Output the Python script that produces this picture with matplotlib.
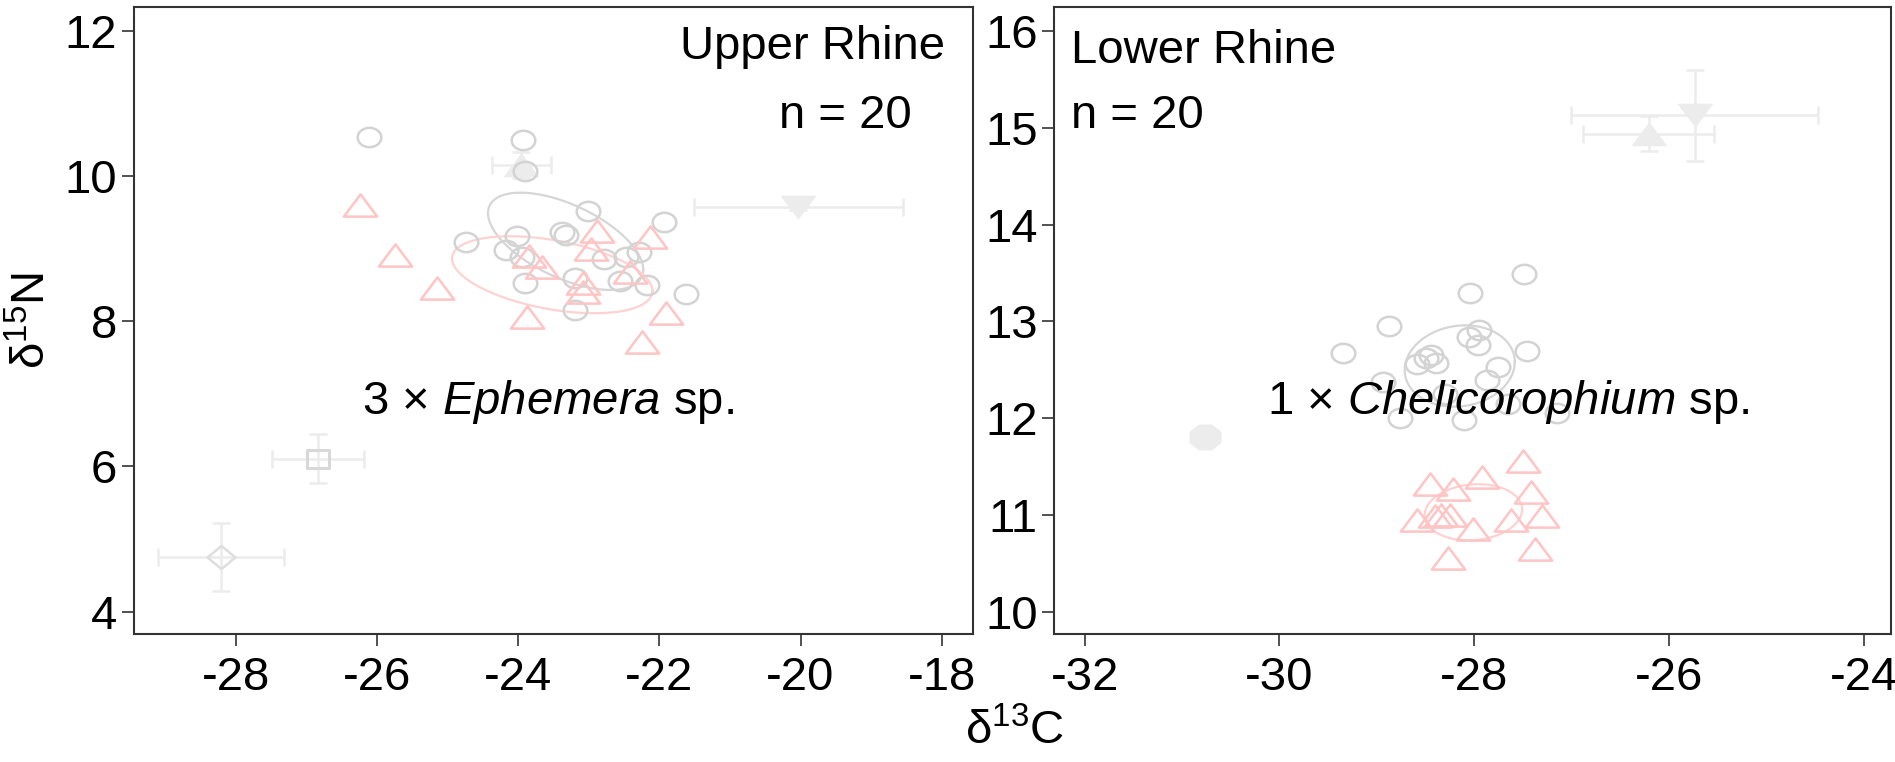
"""Isotope biplots (d13C vs d15N) for the Upper and Lower Rhine sites."""
import numpy as np
import matplotlib
matplotlib.use("Agg")
import matplotlib.pyplot as plt
from matplotlib.path import Path
from matplotlib.transforms import Affine2D

plt.rcParams['font.family'] = ['Liberation Sans', 'DejaVu Sans']
plt.rcParams['mathtext.fontset'] = 'custom'
plt.rcParams['mathtext.rm'] = 'Liberation Sans'
plt.rcParams['mathtext.it'] = 'Liberation Sans:italic'
plt.rcParams['mathtext.bf'] = 'Liberation Sans:bold'
plt.rcParams['axes.unicode_minus'] = False

# ---- Upper Rhine --------------------------------------------------------
up_circ_x = [-26.11, -23.94, -23.90, -23.01, -21.93, -24.74, -24.02, -24.18, -23.38, -23.33,
             -22.79, -22.48, -22.29, -23.90, -23.19, -22.56, -22.17, -21.62, -23.19, -23.95]
up_circ_y = [10.53, 10.50, 10.07, 9.52, 9.37, 9.09, 9.17, 8.98, 9.23, 9.19,
             8.86, 8.89, 8.95, 8.52, 8.59, 8.55, 8.50, 8.38, 8.15, 8.89]
up_tri_x = [-26.25, -25.75, -25.15, -23.88, -22.89, -22.13, -22.97, -23.85, -23.67, -23.08,
            -23.08, -22.42, -21.90, -22.24]
up_tri_y = [9.60, 8.91, 8.46, 8.06, 9.24, 9.16, 8.99, 8.90, 8.75, 8.53,
            8.40, 8.68, 8.12, 7.72]
up_src_x = [-23.96, -20.03, -26.84, -28.21]
up_src_y = [10.15, 9.57, 6.11, 4.75]
up_src_xerr = [0.42, 1.48, 0.65, 0.89]
up_src_yerr = [0.18, 0.04, 0.34, 0.47]
up_src_kind = ["up", "down", "square", "diamond"]
# ellipses: centre x, centre y, sd x, sd y, correlation
up_ell_circ = (-23.33, 9.10, 1.10, 0.67, -0.58)
up_ell_tri = (-23.52, 8.64, 1.42, 0.53, -0.42)

# ---- Lower Rhine --------------------------------------------------------
lo_circ_x = [-27.49, -28.04, -28.88, -29.35, -28.06, -27.95, -27.96, -27.46, -28.44, -28.39,
             -28.59, -27.76, -27.87, -28.94, -28.76, -28.11, -27.15, -28.50, -27.65, -28.30]
lo_circ_y = [13.49, 13.29, 12.95, 12.67, 12.84, 12.91, 12.76, 12.69, 12.65, 12.57,
             12.56, 12.53, 12.40, 12.38, 12.00, 11.98, 12.05, 12.62, 12.15, 12.25]
lo_tri_x = [-27.50, -27.92, -28.46, -28.22, -27.42, -28.59, -28.40, -28.34, -28.25, -28.01,
            -27.62, -27.31, -27.38, -28.27]
lo_tri_y = [11.56, 11.39, 11.32, 11.27, 11.24, 10.95, 10.99, 11.00, 11.00, 10.86,
            10.95, 10.99, 10.65, 10.56]
lo_src_x = [-26.21, -25.74, -30.76]
lo_src_y = [14.94, 15.13, 11.81]
lo_src_xerr = [0.67, 1.27, 0.0]
lo_src_yerr = [0.18, 0.47, 0.0]
lo_src_kind = ["up", "down", "hex"]
lo_ell_circ = (-28.15, 12.54, 0.565, 0.42, 0.1)
lo_ell_tri = (-28.01, 11.03, 0.50, 0.29, 0.1)

# ---- markers (R symbols look a bit wider than tall in the original) -----
def stretched(path, sx):
    return path.transformed(Affine2D().scale(sx, 1.0))

circ_m = stretched(Path.unit_circle(), 1.22)
tri_m = Path([(0, 0.5), (-0.75, -0.5), (0.75, -0.5), (0, 0.5)], closed=True)
tri_down_m = Path([(0, -0.5), (-0.75, 0.5), (0.75, 0.5), (0, -0.5)], closed=True)
sq_m = Path([(-0.65, -0.5), (0.65, -0.5), (0.65, 0.5), (-0.65, 0.5), (-0.65, -0.5)], closed=True)
dia_m = Path([(0, 0.5), (0.6, 0), (0, -0.5), (-0.6, 0), (0, 0.5)], closed=True)
ang = np.linspace(0, 2 * np.pi, 9)[:-1] + np.pi / 8
hex_m = Path(np.column_stack([0.62 * np.cos(ang), 0.5 * np.sin(ang)]).tolist() +
             [[0.62 * np.cos(ang[0]), 0.5 * np.sin(ang[0])]], closed=True)

GREY = "#d3d3d3"
PINK = "#ffc4c4"
SRC = "#ececec"
FS = 34

src_style = {
    "up": dict(marker=tri_m, ms=24, mfc=SRC, mec=SRC),
    "down": dict(marker=tri_down_m, ms=24, mfc=SRC, mec=SRC),
    "square": dict(marker=sq_m, ms=16, mfc="none", mec="#d8d8d8", mew=2.2),
    "diamond": dict(marker=dia_m, ms=20, mfc="none", mec="#dedede", mew=1.8),
    "hex": dict(marker=hex_m, ms=22, mfc=SRC, mec=SRC),
}


def ellipse(ax, params, color):
    cx, cy, sx, sy, rho = params
    t = np.linspace(0, 2 * np.pi, 300)
    x = cx + sx * np.cos(t)
    y = cy + sy * (rho * np.cos(t) + np.sqrt(1 - rho ** 2) * np.sin(t))
    ax.plot(x, y, color=color, lw=1.6, zorder=3)


def panel(ax, cx, cy, tx, ty, sx, sy, sxe, sye, kinds, ell_c, ell_t):
    for x, y, xe, ye, k in zip(sx, sy, sxe, sye, kinds):
        if xe > 0 or ye > 0:
            ax.errorbar(x, y, xerr=xe, yerr=ye, fmt="none", ecolor=SRC,
                        elinewidth=1.8, capsize=6.5, capthick=1.8, zorder=1)
        ax.plot(x, y, ls="none", zorder=2, **src_style[k])
    ax.plot(cx, cy, ls="none", marker=circ_m, ms=17, mfc="none", mec=GREY, mew=1.8, zorder=4)
    ellipse(ax, ell_c, "#d6d6d6")
    ax.plot(tx, ty, ls="none", marker=tri_m, ms=24, mfc="none", mec=PINK, mew=1.8, zorder=5)
    ellipse(ax, ell_t, "#ffd2d2")
    for s in ax.spines.values():
        s.set_linewidth(1.5)
        s.set_color("#333333")
    ax.tick_params(labelsize=FS, length=8.6, width=1.2, color="#333333")
    ax.tick_params(axis="y", pad=3.5)
    ax.tick_params(axis="x", pad=7)


fig = plt.figure(figsize=(18.95, 7.62), dpi=100)
ax1 = fig.add_axes([0.0706, 0.1676, 0.4427, 0.8236])
ax2 = fig.add_axes([0.5564, 0.1676, 0.4417, 0.8236])

panel(ax1, up_circ_x, up_circ_y, up_tri_x, up_tri_y, up_src_x, up_src_y,
      up_src_xerr, up_src_yerr, up_src_kind, up_ell_circ, up_ell_tri)
ax1.set_xlim(-29.45, -17.56)
ax1.set_ylim(3.69, 12.33)
ax1.set_xticks([-28, -26, -24, -22, -20, -18])
ax1.set_yticks([4, 6, 8, 10, 12])
ax1.text(0.9666, 0.9162, "Upper Rhine", transform=ax1.transAxes, ha="right",
         va="baseline", fontsize=FS)
ax1.text(0.8479, 0.8067, "n = 20", transform=ax1.transAxes, ha="center",
         va="baseline", fontsize=FS)
ax1.text(0.4934, 0.3505, r"3 × $\mathit{Ephemera}$ sp.", transform=ax1.transAxes,
         ha="center", va="baseline", fontsize=FS, zorder=10)

panel(ax2, lo_circ_x, lo_circ_y, lo_tri_x, lo_tri_y, lo_src_x, lo_src_y,
      lo_src_xerr, lo_src_yerr, lo_src_kind, lo_ell_circ, lo_ell_tri)
ax2.set_xlim(-32.31, -23.72)
ax2.set_ylim(9.77, 16.25)
ax2.set_xticks([-32, -30, -28, -26, -24])
ax2.set_yticks([10, 11, 12, 13, 14, 15, 16])
ax2.text(0.0204, 0.9108, "Lower Rhine", transform=ax2.transAxes, ha="left",
         va="baseline", fontsize=FS)
ax2.text(0.0204, 0.8062, "n = 20", transform=ax2.transAxes, ha="left",
         va="baseline", fontsize=FS)
ax2.text(0.5424, 0.3505, r"1 × $\mathit{Chelicorophium}$ sp.", transform=ax2.transAxes,
         ha="center", va="baseline", fontsize=FS, zorder=10)

fig.text(0.0174, 0.5794, r"δ$^{\mathregular{15}}$N", rotation=90, ha="center",
         va="center", fontsize=FS)
fig.text(0.5356, 0.0398, r"δ$^{\mathregular{13}}$C", ha="center", va="center",
         fontsize=FS)

fig.savefig("out.png", dpi=100)
